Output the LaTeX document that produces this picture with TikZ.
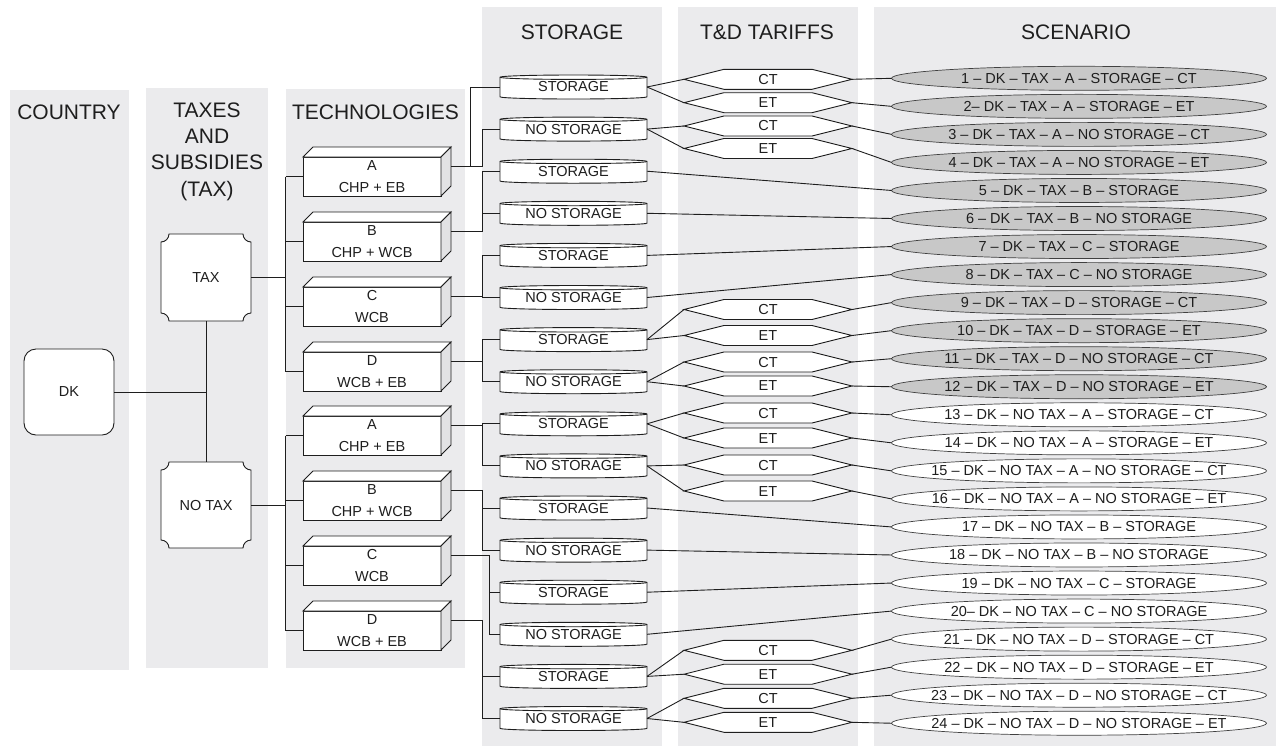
\documentclass[tikz,border=0pt]{standalone}
\usepackage{fontspec}
\setmainfont{Liberation Sans}
\usetikzlibrary{shapes.geometric}
\definecolor{panel}{RGB}{235,235,237}
\definecolor{scgray}{RGB}{200,200,200}
\definecolor{sidegray}{RGB}{226,226,228}
\definecolor{ink}{RGB}{30,30,30}
\newcommand\mkconcave[4]{%
 \draw[fill=white] ({#1-#3+8},{#2-#4}) -- ({#1+#3-8},{#2-#4}) arc[start angle=180,end angle=90,radius=8]
  -- ({#1+#3},{#2+#4-8}) arc[start angle=270,end angle=180,radius=8]
  -- ({#1-#3+8},{#2+#4}) arc[start angle=0,end angle=-90,radius=8]
  -- ({#1-#3},{#2-#4+8}) arc[start angle=90,end angle=0,radius=8] -- cycle;}
\newcommand\mktech[4]{%
 \node[technode] (#1) at (372,#2) {#3\\#4};
 \draw[fill=white] (#1.north west) -- ++(10,-10) -- ([shift={(10,-10)}]#1.north east) -- (#1.north east) -- cycle;
 \draw[fill=sidegray] (#1.north east) -- ++(10,-10) -- ([shift={(10,-10)}]#1.south east) -- (#1.south east) -- cycle;
 \coordinate (#1o) at ([shift={(10,-10)}]#1.east);}
\newcommand\mkcyl[3]{%
 \draw[fill=white] (500,{#2-9.8}) -- (500,{#2+9.8}) arc[start angle=180,end angle=0,x radius=73.5,y radius=2.2]
   -- (647,{#2-9.8}) arc[start angle=0,end angle=-180,x radius=73.5,y radius=2.2] -- cycle;
 \draw (500,{#2-9.8}) arc[start angle=180,end angle=0,x radius=73.5,y radius=2.2];
 \node[cylnode] (#1) at (573.5,#2) {#3};}
\newcommand\mkhex[3]{%
 \draw[fill=white] (684,#2) -- (724,{#2-10}) -- (812,{#2-10}) -- (852,#2) -- (812,{#2+10}) -- (724,{#2+10}) -- cycle;
 \node[hexnode] (#1) at (768,#2) {#3};}
\newcommand\mkbus[4]{%
 \draw (#1) -- (#1 -| #2) |- (#3.west);
 \draw (#1 -| #2) |- (#4.west);}
\begin{document}
\begin{tikzpicture}[x=1pt,y=-1pt,ink,line width=0.9pt,
  nf/.style={font=\fontsize{14.5}{21.4}\selectfont},
  hdr/.style={font=\fontsize{21}{26.3}\selectfont,align=center,inner sep=0pt},
  plainnode/.style={nf,inner sep=0pt,outer sep=0pt,align=center},
  technode/.style={plainnode,draw,fill=white,minimum width=138pt,minimum height=39pt},
  cylnode/.style={plainnode,minimum width=147pt,minimum height=24pt},
  hexnode/.style={plainnode,minimum width=168pt,minimum height=20pt},
  scn/.style={nf,ellipse,draw=black!75,line width=0.7pt,minimum width=375pt,minimum height=24pt,inner sep=0pt,outer sep=0pt}]
\useasboundingbox (0,0) rectangle (1276,748);
% panels
\fill[panel] (10,90) rectangle (129,670);
\fill[panel] (146,88) rectangle (268,668);
\fill[panel] (286,89) rectangle (465,668);
\fill[panel] (482,7) rectangle (662,746);
\fill[panel] (678,7) rectangle (858,746);
\fill[panel] (874,7) rectangle (1276,746);
% headers
\node[hdr] (hC) at (69,112) {COUNTRY};
\node[hdr] (hT) at (207,151.5) {TAXES\\AND\\SUBSIDIES\\(TAX)};
\node[hdr] (hTe) at (375.5,112) {TECHNOLOGIES};
\node[hdr] (hS) at (572,32) {STORAGE};
\node[hdr] (hTD) at (767,32) {T\&D TARIFFS};
\node[hdr] (hSc) at (1076,32) {SCENARIO};
% country and tax
\node[plainnode,draw,fill=white,rounded corners=12pt,minimum width=90pt,minimum height=86pt] (DK) at (69,392) {DK};
\mkconcave{206}{277.5}{45}{43.5}
\node[plainnode,minimum width=90pt,minimum height=87pt] (TAX) at (206,277.5) {TAX};
\mkconcave{206}{505}{45}{43}
\node[plainnode,minimum width=90pt,minimum height=86pt] (NOTAX) at (206,505) {NO TAX};
% technologies
\mktech{tA}{176.5}{A}{CHP + EB}
\mktech{tB}{241.5}{B}{CHP + WCB}
\mktech{tC}{306.5}{C}{WCB}
\mktech{tD}{371.5}{D}{WCB + EB}
\mktech{nA}{435.5}{A}{CHP + EB}
\mktech{nB}{500.5}{B}{CHP + WCB}
\mktech{nC}{565.5}{C}{WCB}
\mktech{nD}{630.5}{D}{WCB + EB}
% storage
\mkcyl{s1}{87}{STORAGE}
\mkcyl{s2}{129.1}{NO STORAGE}
\mkcyl{s3}{171.2}{STORAGE}
\mkcyl{s4}{213.3}{NO STORAGE}
\mkcyl{s5}{255.4}{STORAGE}
\mkcyl{s6}{297.5}{NO STORAGE}
\mkcyl{s7}{339.6}{STORAGE}
\mkcyl{s8}{381.7}{NO STORAGE}
\mkcyl{s9}{423.8}{STORAGE}
\mkcyl{s10}{465.9}{NO STORAGE}
\mkcyl{s11}{508}{STORAGE}
\mkcyl{s12}{550.1}{NO STORAGE}
\mkcyl{s13}{592.2}{STORAGE}
\mkcyl{s14}{634.3}{NO STORAGE}
\mkcyl{s15}{676.4}{STORAGE}
\mkcyl{s16}{718.5}{NO STORAGE}
% tariffs
\mkhex{h1}{79.3}{CT}
\mkhex{h2}{102.7}{ET}
\mkhex{h3}{126}{CT}
\mkhex{h4}{148.5}{ET}
\mkhex{h5}{309.5}{CT}
\mkhex{h6}{335.5}{ET}
\mkhex{h7}{362}{CT}
\mkhex{h8}{386}{ET}
\mkhex{h9}{413}{CT}
\mkhex{h10}{438}{ET}
\mkhex{h11}{465}{CT}
\mkhex{h12}{491}{ET}
\mkhex{h13}{650.3}{CT}
\mkhex{h14}{674.2}{ET}
\mkhex{h15}{698.3}{CT}
\mkhex{h16}{722.3}{ET}
% scenarios
\foreach \k/\t in {1/{1 – DK – TAX – A – STORAGE – CT},2/{2– DK – TAX – A – STORAGE – ET},3/{3 – DK – TAX – A – NO STORAGE – CT},4/{4 – DK – TAX – A – NO STORAGE – ET},5/{5 – DK – TAX – B – STORAGE},6/{6 – DK – TAX – B – NO STORAGE},7/{7 – DK – TAX – C – STORAGE},8/{8 – DK – TAX – C – NO STORAGE},9/{9 – DK – TAX – D – STORAGE – CT},10/{10 – DK – TAX – D – STORAGE – ET},11/{11 – DK – TAX – D – NO STORAGE – CT},12/{12 – DK – TAX – D – NO STORAGE – ET}}
  \node[scn,fill=scgray] (sc\k) at (1079,{78.3+28.04*(\k-1)}) {\makebox[0pt]{\t}};
\foreach \k/\t in {13/{13 – DK – NO TAX – A – STORAGE – CT},14/{14 – DK – NO TAX – A – STORAGE – ET},15/{15 – DK – NO TAX – A – NO STORAGE – CT},16/{16 – DK – NO TAX – A – NO STORAGE – ET},17/{17 – DK – NO TAX – B – STORAGE},18/{18 – DK – NO TAX – B – NO STORAGE},19/{19 – DK – NO TAX – C – STORAGE},20/{20– DK – NO TAX – C – NO STORAGE},21/{21 – DK – NO TAX – D – STORAGE – CT},22/{22 – DK – NO TAX – D – STORAGE – ET},23/{23 – DK – NO TAX – D – NO STORAGE – CT},24/{24 – DK – NO TAX – D – NO STORAGE – ET}}
  \node[scn,fill=white] (sc\k) at (1079,{78.3+28.04*(\k-1)}) {\makebox[0pt]{\t}};
% connectors: country/tax
\draw (DK.east) -- (DK.east -| TAX.south);
\draw (TAX.south) -- (NOTAX.north);
\coordinate (bt) at (285.5,0);
\draw (TAX.east) -- (TAX.east -| bt);
\draw (NOTAX.east) -- (NOTAX.east -| bt);
\draw (tA.west -| bt) -- (tD.west -| bt);
\draw (nA.west -| bt) -- (nD.west -| bt);
\foreach \n in {tA,tB,tC,tD,nA,nB,nC,nD} \draw (\n.west -| bt) -- (\n.west);
% tech -> storage
\coordinate (bx) at (482.5,0);
\coordinate (bxa) at (470,0);
\coordinate (bxc) at (489,0);
\draw (tAo) -- (tAo -| bx) |- (s2.west);
\draw (tAo -| bxa) |- (s1.west);
\mkbus{tBo}{bx}{s3}{s4}
\mkbus{tCo}{bx}{s5}{s6}
\mkbus{tDo}{bx}{s7}{s8}
\mkbus{nAo}{bx}{s9}{s10}
\mkbus{nBo}{bx}{s11}{s12}
\mkbus{nCo}{bxc}{s13}{s14}
\mkbus{nDo}{bx}{s15}{s16}
% storage -> tariffs -> scenarios
\foreach \s/\a/\b in {s1/h1/h2,s2/h3/h4,s7/h5/h6,s8/h7/h8,s9/h9/h10,s10/h11/h12,s15/h13/h14,s16/h15/h16}
  {\draw (\s.east) -- (\a.west); \draw (\s.east) -- (\b.west);}
\foreach \h/\c in {h1/sc1,h2/sc2,h3/sc3,h4/sc4,h5/sc9,h6/sc10,h7/sc11,h8/sc12,h9/sc13,h10/sc14,h11/sc15,h12/sc16,h13/sc21,h14/sc22,h15/sc23,h16/sc24}
  \draw (\h.east) -- (\c.west);
\foreach \s/\c in {s3/sc5,s4/sc6,s5/sc7,s6/sc8,s11/sc17,s12/sc18,s13/sc19,s14/sc20}
  \draw (\s.east) -- (\c.west);
\end{tikzpicture}
\end{document}
